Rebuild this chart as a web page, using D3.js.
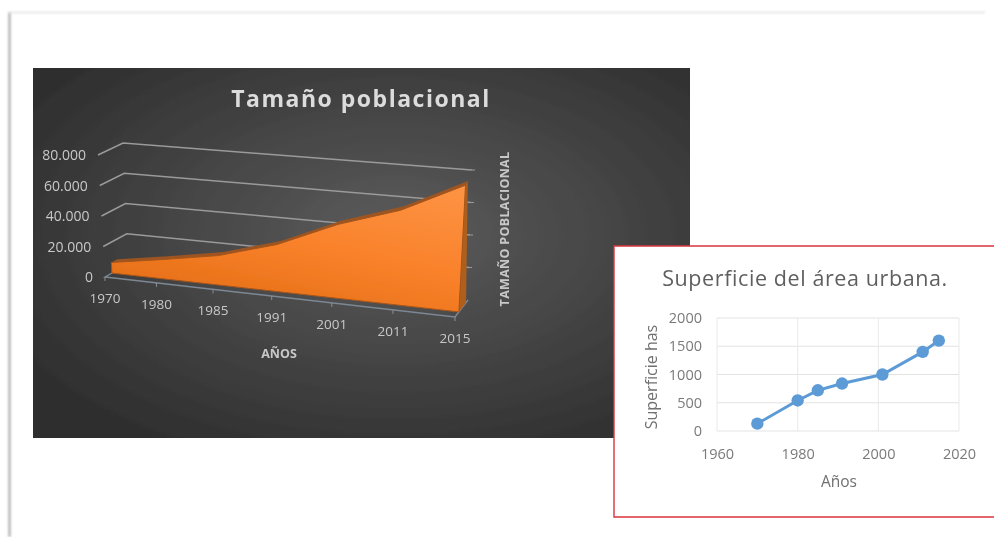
<!DOCTYPE html>
<html lang="es">

<head>
    <meta charset="UTF-8">
    <title>Tamaño poblacional</title>
    <script src="https://d3js.org/d3.v7.min.js"></script>
    <style>
        html, body { margin: 0; padding: 0; background: #fff; overflow: hidden; }
        svg { display: block; }
        text { font-family: "Open Sans", sans-serif; }
    </style>
</head>

<body>
    <div id="chart"></div>

    <script>
        // chart 1: population (3D area)
        const popYears = ["1970", "1980", "1985", "1991", "2001", "2011", "2015"];
        const popValues = [7000, 12500, 19000, 30000, 46500, 59000, 78000];
        const popTicks = [0, 20000, 40000, 60000, 80000];

        // chart 2: urban area
        const areaYears = [1970, 1980, 1985, 1991, 2001, 2011, 2015];
        const areaValues = [130, 540, 720, 840, 1000, 1400, 1600];
        const areaXTicks = [1960, 1980, 2000, 2020];
        const areaYTicks = [0, 500, 1000, 1500, 2000];

        const svg = d3.select("#chart").append("svg")
            .attr("width", 999)
            .attr("height", 537);

        const defs = svg.append("defs");

        const bg = defs.append("radialGradient").attr("id", "panelBg")
            .attr("cx", "55%").attr("cy", "45%").attr("r", "65%");
        bg.append("stop").attr("offset", "0%").attr("stop-color", "#5c5c5c");
        bg.append("stop").attr("offset", "100%").attr("stop-color", "#2f2f2f");

        const orange = defs.append("linearGradient").attr("id", "orangeFill")
            .attr("x1", "1").attr("y1", "0").attr("x2", "0.4").attr("y2", "1");
        orange.append("stop").attr("offset", "0%").attr("stop-color", "#fd9445");
        orange.append("stop").attr("offset", "55%").attr("stop-color", "#f9812a");
        orange.append("stop").attr("offset", "100%").attr("stop-color", "#e56f16");

        const soft = defs.append("filter").attr("id", "soft")
            .attr("filterUnits", "userSpaceOnUse")
            .attr("x", 0).attr("y", 0).attr("width", 999).attr("height", 537);
        soft.append("feGaussianBlur").attr("stdDeviation", 0.55);
        const shadow = defs.append("filter").attr("id", "shadow")
            .attr("filterUnits", "userSpaceOnUse")
            .attr("x", 0).attr("y", 0).attr("width", 999).attr("height", 537);
        shadow.append("feGaussianBlur").attr("stdDeviation", 1.2);

        // page edge
        svg.append("path")
            .attr("d", "M9.5,537V12.5")
            .attr("stroke", "#b5b5b5").attr("stroke-width", 2.5).attr("fill", "none")
            .attr("filter", "url(#shadow)");
        svg.append("path")
            .attr("d", "M9.5,12.5H985")
            .attr("stroke", "#e0e0e0").attr("stroke-width", 1.5).attr("fill", "none")
            .attr("filter", "url(#shadow)");

        // ---- left chart ----
        const leftChart = svg.append("g").attr("filter", "url(#soft)");

        leftChart.append("rect")
            .attr("x", 33).attr("y", 68)
            .attr("width", 657).attr("height", 370)
            .attr("fill", "url(#panelBg)");

        leftChart.append("text")
            .attr("x", 361).attr("y", 107)
            .attr("text-anchor", "middle")
            .attr("font-size", 23).attr("font-weight", 700)
            .attr("letter-spacing", 1.5)
            .attr("fill", "#dcdcdc")
            .text("Tamaño poblacional");

        // the perspective box: t goes along the years, d goes front to back wall
        const along = d3.scalePoint().domain(popYears).range([0, 1]);
        const warp = d3.scalePow().exponent(1.07).domain([0, 1]).range([0, 1]);
        const frontX = d3.scaleLinear().domain([0, 1]).range([105, 455]);
        const frontY = d3.scaleLinear().domain([0, 1]).range([277, 317]);
        const backX = d3.scaleLinear().domain([0, 1]).range([128, 468]);
        const backY = d3.scaleLinear().domain([0, 1]).range([264, 300]);
        const frontLean = d3.scaleLinear().domain([0, 1]).range([-7, 8]);
        const backLean = d3.scaleLinear().domain([0, 1]).range([-5, 4]);
        const frontRise = d3.scaleLinear().domain([0, 1]).range([122, 130]);
        const backRise = d3.scaleLinear().domain([0, 1]).range([121, 130]);
        const valueScale = d3.scaleLinear().domain([0, 80000]).range([0, 1]);

        function project(t, v, d) {
            const w = warp(t);
            const k = valueScale(v);
            const fx = frontX(w) + frontLean(w) * k;
            const fy = frontY(w) - frontRise(w) * k;
            const bx = backX(w) + backLean(w) * k;
            const by = backY(w) - backRise(w) * k;
            return [fx + (bx - fx) * d, fy + (by - fy) * d];
        }

        const polyline = d3.line();
        const gridColor = "#9a9a9a";

        // gridlines on side + back wall
        popTicks.forEach(v => {
            if (v === 0) return;
            leftChart.append("path")
                .attr("d", polyline([project(0, v, 0), project(0, v, 1), project(1, v, 1)]))
                .attr("fill", "none").attr("stroke", gridColor).attr("stroke-width", 1.5);
            const end = project(1, v, 1);
            leftChart.append("path")
                .attr("d", polyline([end, [end[0] + 3, end[1]]]))
                .attr("fill", "none").attr("stroke", gridColor).attr("stroke-width", 1);
        });

        // floor edges
        leftChart.append("path")
            .attr("d", polyline([project(0, 0, 1), project(0, 0, 0), project(1, 0, 0), project(1, 0, 1)]))
            .attr("fill", "none").attr("stroke", "#7d8894").attr("stroke-width", 1.4);

        popYears.forEach(y => {
            const p = project(along(y), 0, 0);
            leftChart.append("path")
                .attr("d", polyline([p, [p[0], p[1] + 4]]))
                .attr("fill", "none").attr("stroke", "#8a8f96").attr("stroke-width", 1);
        });

        // area solid
        const depthFront = 0.3;
        const depthBack = 0.55;
        const topEdge = depth => popYears.map((y, i) => project(along(y), popValues[i], depth));
        const baseEdge = depth => popYears.map(y => project(along(y), 0, depth));

        // top face
        leftChart.append("path")
            .attr("d", polyline(topEdge(depthBack).concat(topEdge(depthFront).reverse())) + "Z")
            .attr("fill", "#9c5420");

        // right end face
        const lastYear = along(popYears[popYears.length - 1]);
        const lastValue = popValues[popValues.length - 1];
        leftChart.append("path")
            .attr("d", polyline([
                project(lastYear, 0, depthFront),
                project(lastYear, 0, depthBack + 0.3),
                project(lastYear, lastValue, depthBack),
                project(lastYear, lastValue, depthFront)
            ]) + "Z")
            .attr("fill", "#ae5f1f");

        // front face
        leftChart.append("path")
            .attr("d", polyline(topEdge(depthFront).concat(baseEdge(depthFront).reverse())) + "Z")
            .attr("fill", "url(#orangeFill)")
            .attr("stroke", "#a8551c").attr("stroke-width", 1);

        const fmt = d3.formatLocale({ decimal: ",", thousands: ".", grouping: [3], currency: ["", ""] }).format(",");

        popTicks.forEach(v => {
            const p = project(0, v, 0);
            leftChart.append("text")
                .attr("x", p[0] - 12).attr("y", p[1] + 5)
                .attr("text-anchor", "end")
                .attr("font-size", 14)
                .attr("fill", "#c8c8c8")
                .text(fmt(v));
        });

        popYears.forEach(y => {
            const p = project(along(y), 0, 0);
            leftChart.append("text")
                .attr("x", p[0]).attr("y", p[1] + 26)
                .attr("text-anchor", "middle")
                .attr("font-size", 13.5)
                .attr("fill", "#c8c8c8")
                .text(y);
        });

        leftChart.append("text")
            .attr("x", 279).attr("y", 358)
            .attr("text-anchor", "middle")
            .attr("font-size", 12.5).attr("font-weight", 700)
            .attr("fill", "#c8c8c8")
            .text("AÑOS");

        leftChart.append("text")
            .attr("transform", "translate(509,229) rotate(-90)")
            .attr("text-anchor", "middle")
            .attr("font-size", 12.5).attr("font-weight", 700)
            .attr("letter-spacing", 0.3)
            .attr("fill", "#c8c8c8")
            .text("TAMAÑO POBLACIONAL");

        // ---- right chart ----
        const rightChart = svg.append("g").attr("filter", "url(#soft)");

        rightChart.append("rect")
            .attr("x", 614).attr("y", 246)
            .attr("width", 385).attr("height", 271)
            .attr("fill", "#fff");
        rightChart.append("path")
            .attr("d", "M994,246H614V517H994")
            .attr("fill", "none").attr("stroke", "#d9343c").attr("stroke-width", 1.4);

        rightChart.append("text")
            .attr("x", 805).attr("y", 286)
            .attr("text-anchor", "middle")
            .attr("font-size", 21.5)
            .attr("letter-spacing", 0.6)
            .attr("fill", "#5f5f5f")
            .text("Superficie del área urbana.");

        const x = d3.scaleLinear().domain([1960, 2020]).range([717, 959]);
        const y = d3.scaleLinear().domain([0, 2000]).range([431, 318]);

        rightChart.append("g").selectAll("line").data(areaYTicks).join("line")
            .attr("x1", x(1960)).attr("x2", x(2020))
            .attr("y1", d => y(d)).attr("y2", d => y(d))
            .attr("stroke", "#e3e3e3").attr("stroke-width", 1);
        rightChart.append("g").selectAll("line").data(areaXTicks).join("line")
            .attr("x1", d => x(d)).attr("x2", d => x(d))
            .attr("y1", y(0)).attr("y2", y(2000))
            .attr("stroke", "#e9e9e9").attr("stroke-width", 1);

        const xAxis = rightChart.append("g")
            .attr("transform", `translate(0,${y(0) + 15})`)
            .call(d3.axisBottom(x).tickValues(areaXTicks).tickFormat(d3.format("d")).tickSize(0));
        const yAxis = rightChart.append("g")
            .attr("transform", `translate(${x(1960) - 12},0)`)
            .call(d3.axisLeft(y).tickValues(areaYTicks).tickFormat(d3.format("d")).tickSize(0));
        [xAxis, yAxis].forEach(a => {
            a.select(".domain").remove();
            a.selectAll("text")
                .attr("font-family", "'Open Sans', sans-serif")
                .attr("font-size", 14.5)
                .attr("fill", "#7a7a7a");
        });

        const points = areaYears.map((yr, i) => [yr, areaValues[i]]);
        rightChart.append("path")
            .datum(points)
            .attr("fill", "none")
            .attr("stroke", "#5b9bd5")
            .attr("stroke-width", 3)
            .attr("d", d3.line().x(d => x(d[0])).y(d => y(d[1])));
        rightChart.append("g").selectAll("circle").data(points).join("circle")
            .attr("cx", d => x(d[0])).attr("cy", d => y(d[1]))
            .attr("r", 6.2)
            .attr("fill", "#5b9bd5");

        rightChart.append("text")
            .attr("x", 839).attr("y", 487)
            .attr("text-anchor", "middle")
            .attr("font-size", 15.5)
            .attr("fill", "#6f6f6f")
            .text("Años");

        rightChart.append("text")
            .attr("transform", "translate(657,377) rotate(-90)")
            .attr("text-anchor", "middle")
            .attr("font-size", 16)
            .attr("fill", "#6f6f6f")
            .text("Superficie has");
    </script>
</body>

</html>
